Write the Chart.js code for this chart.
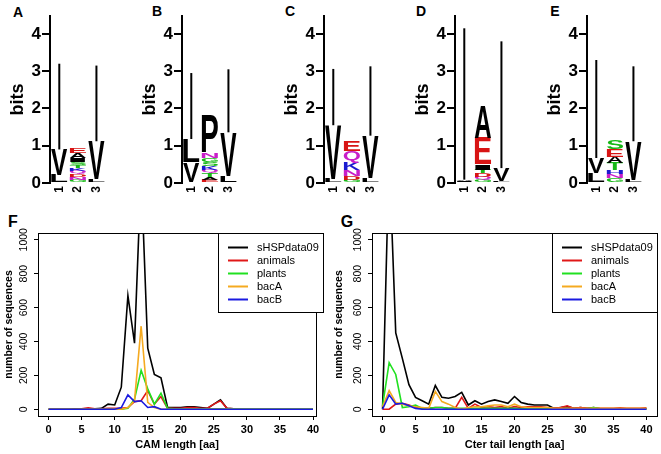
<!DOCTYPE html>
<html>
<head>
<meta charset="utf-8">
<script src="https://cdn.jsdelivr.net/npm/chart.js@4.4.1/dist/chart.umd.min.js"></script>
<style>
body{margin:0;background:#fff;width:661px;height:454px;position:relative;overflow:hidden;font-family:"Liberation Sans",Arial,sans-serif}
.cv{position:absolute}
.lab{position:absolute;font-weight:bold;font-size:14px;transform:translate(-50%,-50%);color:#000}
</style>
</head>
<body>
<div class="lab" style="left:18px;top:12px">A</div>
<div class="lab" style="left:157px;top:11px">B</div>
<div class="lab" style="left:290px;top:11px">C</div>
<div class="lab" style="left:421px;top:11px">D</div>
<div class="lab" style="left:555px;top:11px">E</div>
<div class="lab" style="left:13px;top:222px;font-size:16px">F</div>
<div class="lab" style="left:347px;top:222px;font-size:16px">G</div>

<div class="cv" style="left:0px;top:0px;width:115px;height:200px"><canvas id="logoA"></canvas></div>
<div class="cv" style="left:132px;top:0px;width:115px;height:200px"><canvas id="logoB"></canvas></div>
<div class="cv" style="left:274px;top:0px;width:115px;height:200px"><canvas id="logoC"></canvas></div>
<div class="cv" style="left:405px;top:0px;width:115px;height:200px"><canvas id="logoD"></canvas></div>
<div class="cv" style="left:537px;top:0px;width:115px;height:200px"><canvas id="logoE"></canvas></div>
<div class="cv" style="left:0px;top:200px;width:330px;height:254px"><canvas id="chartF"></canvas></div>
<div class="cv" style="left:330px;top:200px;width:331px;height:254px"><canvas id="chartG"></canvas></div>

<script>
// sequence logos: letters per position, bottom to top, with their heights in bits
var positions = ['1', '2', '3'];
var bitTicks = [0, 1, 2, 3, 4];

var lettersA = [['L','V'], ['G','N','D','Q','K','T','S','I','A','E'], ['L','V']];
var heightsA = [[0.22,0.68], [0.08,0.08,0.08,0.08,0.08,0.08,0.08,0.1,0.15,0.15], [0.1,1.02]];
var errTopA = [3.2, null, 3.15];

var lettersB = [['V','L'], ['E','A','T','Q','K','S','G','N','P'], ['L','V']];
var heightsB = [[0.55,0.63], [0.08,0.08,0.1,0.1,0.1,0.1,0.11,0.15,1.0], [0.18,1.18]];
var errTopB = [2.95, null, 3.05];

var lettersC = [['L','V'], ['G','D','N','K','Q','E'], ['L','V']];
var heightsC = [[0.12,1.43], [0.08,0.1,0.17,0.2,0.31,0.27], [0.13,1.14]];
var errTopC = [3.06, null, 3.13];

var lettersD = [['V','I','A'], ['G','Q','D','T','I','E','A'], ['L','V']];
var heightsD = [[0.03,0.03,0.03], [0.08,0.08,0.1,0.1,0.14,0.72,0.85], [0.05,0.35]];
var errTopD = [4.15, null, 3.8];

var lettersE = [['L','V'], ['G','N','H','T','A','E','S'], ['L','V']];
var heightsE = [[0.27,0.4], [0.14,0.1,0.1,0.19,0.18,0.2,0.24], [0.08,1.04]];
var errTopE = [3.3, null, 3.13];

// length distributions
var lengths = [0,1,2,3,4,5,6,7,8,9,10,11,12,13,14,15,16,17,18,19,20,21,22,23,24,25,26,27,28,29,30,31,32,33,34,35,36,37,38,39,40];
var xTicks = [0, 5, 10, 15, 20, 25, 30, 35, 40];
var yTicks = [0, 200, 400, 600, 800, 1000];
var seriesNames = ['sHSPdata09', 'animals', 'plants', 'bacA', 'bacB'];

var camAll     = [0,0,0,0,2,2,3,2,5,30,25,130,670,390,1400,360,205,185,10,10,10,15,15,10,5,30,55,5,2,2,2,2,2,2,2,1,1,1,2,1,1];
var camAnimals = [0,0,0,0,0,2,8,2,3,5,5,5,10,45,50,110,30,75,5,5,5,10,10,5,5,30,50,5,2,2,2,2,2,2,2,2,2,2,3,2,2];
var camPlants  = [0,0,0,0,0,0,0,0,0,0,0,0,5,60,230,120,30,95,5,2,2,2,2,2,2,2,2,2,2,2,2,2,2,3,2,2,2,2,2,2,2];
var camBacA    = [0,0,0,0,0,0,0,0,0,0,0,0,10,50,490,40,10,0,0,0,0,0,0,0,0,0,0,0,0,0,0,0,0,0,0,0,0,0,0,0,0];
var camBacB    = [0,0,0,0,0,0,0,0,0,0,0,10,85,45,50,10,15,0,0,0,0,0,0,0,0,0,0,0,0,0,0,0,0,0,0,0,0,0,0,0,0];

var cterAll     = [0,1500,450,300,145,70,50,30,140,70,65,75,100,25,50,30,45,55,45,35,75,40,30,25,25,25,5,10,15,5,10,5,10,3,3,3,3,3,3,3,3];
var cterAnimals = [0,0,30,35,25,10,5,5,10,10,5,5,70,5,30,10,15,10,15,5,15,10,15,15,15,10,5,10,20,5,10,5,5,5,5,5,8,5,5,5,8];
var cterPlants  = [20,275,205,10,15,25,5,5,10,10,5,5,5,5,5,5,5,5,5,5,5,3,3,3,3,3,3,3,3,3,3,3,10,3,2,2,2,2,2,2,2];
var cterBacA    = [15,110,40,30,20,15,10,5,105,45,30,10,0,10,15,15,20,25,25,15,30,15,10,10,10,10,5,5,5,5,5,5,5,5,5,5,5,5,5,5,5];
var cterBacB    = [0,85,30,35,20,5,0,0,0,0,0,0,0,0,0,0,0,0,0,0,0,0,0,0,0,0,0,0,0,0,0,0,0,0,0,0,0,0,0,0,0];

var lineColors = ['#000000', '#e01818', '#20e020', '#f5aa20', '#1a1ae0'];

var aaColors = {
    A:'#000', V:'#000', L:'#000', I:'#000', P:'#000', F:'#000', M:'#000', W:'#000',
    G:'#16b816', S:'#16b816', T:'#16b816', Y:'#16b816', C:'#16b816',
    N:'#c81ec8', Q:'#c81ec8',
    K:'#1a1ad0', R:'#1a1ad0', H:'#1a1ad0',
    D:'#d81414', E:'#d81414'
};

Chart.defaults.font.family = '"Liberation Sans", Arial, sans-serif';
Chart.defaults.color = '#000';

// draw one letter stretched into a box
function drawGlyph(ctx, ch, x, y, w, h, color){
    if (w <= 0 || h <= 0.3) return;
    ctx.save();
    ctx.font = 'bold 100px "Liberation Sans", Arial, sans-serif';
    ctx.textAlign = 'left';
    ctx.textBaseline = 'alphabetic';
    var m = ctx.measureText(ch);
    var gw = m.actualBoundingBoxLeft + m.actualBoundingBoxRight;
    var gh = m.actualBoundingBoxAscent + m.actualBoundingBoxDescent;
    ctx.translate(x, y);
    ctx.scale(w / gw, h / gh);
    ctx.fillStyle = color;
    ctx.fillText(ch, m.actualBoundingBoxLeft, m.actualBoundingBoxAscent);
    ctx.restore();
}

var letterPlugin = {
    id: 'letters',
    beforeDatasetsDraw: function(chart){
        // error bars, from the top of the stack upwards
        var o = chart.options.plugins.letters;
        var xs = chart.scales.x, ys = chart.scales.y, ctx = chart.ctx;
        ctx.save();
        ctx.strokeStyle = '#000';
        ctx.lineWidth = 2;
        o.tops.forEach(function(top, i){
            if (top == null) return;
            var sum = o.heights[i].reduce(function(a, b){ return a + b; }, 0);
            var x = xs.getPixelForValue(i);
            ctx.beginPath();
            ctx.moveTo(x, ys.getPixelForValue(sum));
            ctx.lineTo(x, ys.getPixelForValue(top));
            ctx.stroke();
        });
        ctx.restore();
    },
    afterDatasetsDraw: function(chart){
        var ctx = chart.ctx;
        chart.data.datasets.forEach(function(ds, di){
            chart.getDatasetMeta(di).data.forEach(function(bar, i){
                var ch = ds.letters[i];
                if (!ch) return;
                var p = bar.getProps(['x', 'y', 'base', 'width'], true);
                drawGlyph(ctx, ch, p.x - p.width / 2, p.y, p.width, p.base - p.y, aaColors[ch]);
            });
        });
    }
};

function logoChart(id, letters, heights, errTop){
    var levels = Math.max.apply(null, letters.map(function(c){ return c.length; }));
    var datasets = [];
    for (var k = 0; k < levels; k++){
        datasets.push({
            data: heights.map(function(c){ return c[k] || 0; }),
            letters: letters.map(function(c){ return c[k] || ''; }),
            backgroundColor: 'rgba(0,0,0,0)',
            borderWidth: 0,
            barPercentage: 0.88,
            categoryPercentage: 1
        });
    }
    return new Chart(document.getElementById(id), {
        type: 'bar',
        data: { labels: positions, datasets: datasets },
        options: {
            responsive: true, maintainAspectRatio: false, animation: false,
            layout: { padding: { top: 16, right: 7, left: 0, bottom: 0 } },
            plugins: { legend: { display: false }, tooltip: { enabled: false },
                letters: { tops: errTop, heights: heights } },
            scales: {
                x: {
                    stacked: true,
                    grid: { display: false, drawTicks: false },
                    border: { display: false },
                    ticks: { minRotation: 90, maxRotation: 90, font: { size: 12, weight: 'bold' }, padding: 3 },
                    afterFit: function(s){ s.height = 17; }
                },
                y: {
                    stacked: true, min: 0, max: 4.48,
                    afterBuildTicks: function(s){ s.ticks = bitTicks.map(function(v){ return { value: v }; }); },
                    grid: { drawOnChartArea: false, tickLength: 8, color: '#000', lineWidth: 2 },
                    border: { display: true, color: '#000', width: 2 },
                    ticks: { font: { size: 17, weight: 'bold' }, padding: 1 },
                    title: { display: true, text: 'bits', font: { size: 18, weight: 'bold' }, padding: { top: 7, bottom: 0 } },
                    afterFit: function(s){ s.width = 50; }
                }
            }
        },
        plugins: [letterPlugin]
    });
}

logoChart('logoA', lettersA, heightsA, errTopA);
logoChart('logoB', lettersB, heightsB, errTopB);
logoChart('logoC', lettersC, heightsC, errTopC);
logoChart('logoD', lettersD, heightsD, errTopD);
logoChart('logoE', lettersE, heightsE, errTopE);

// box, rotated y labels and the legend, drawn the way R does
var framePlugin = {
    id: 'frame',
    afterDraw: function(chart){
        var o = chart.options.plugins.frame;
        var ca = chart.chartArea, ctx = chart.ctx, ys = chart.scales.y;
        ctx.save();
        ctx.strokeStyle = '#000';
        ctx.lineWidth = 1;
        ctx.strokeRect(Math.round(ca.left) + 0.5, Math.round(ca.top) + 0.5, Math.round(ca.right - ca.left), Math.round(ca.bottom - ca.top));

        ctx.fillStyle = '#000';
        ctx.font = '10.5px "Liberation Sans", Arial, sans-serif';
        ctx.textAlign = 'center';
        ctx.textBaseline = 'middle';
        yTicks.forEach(function(v){
            ctx.save();
            ctx.translate(ca.left - 14, ys.getPixelForValue(v));
            ctx.rotate(-Math.PI / 2);
            ctx.fillText(String(v), 0, 0);
            ctx.restore();
        });

        var w = 105, h = 79;
        var r = Math.round(ca.right + o.legendShift);
        var l = r - w, t = Math.round(ca.top);
        ctx.fillStyle = '#fff';
        ctx.fillRect(l, t, w, h);
        ctx.strokeRect(l + 0.5, t + 0.5, w, h);
        ctx.font = '11px "Liberation Sans", Arial, sans-serif';
        ctx.textAlign = 'left';
        chart.data.datasets.forEach(function(ds, i){
            var y = t + 14.5 + i * 13;
            ctx.strokeStyle = ds.borderColor;
            ctx.lineWidth = 2;
            ctx.beginPath();
            ctx.moveTo(l + 10, y);
            ctx.lineTo(l + 30, y);
            ctx.stroke();
            ctx.fillStyle = '#000';
            ctx.fillText(ds.label, l + 39, y);
        });
        ctx.restore();
    }
};

function lengthChart(id, series, xTitle, xMax, padLeft, padRight, legendShift){
    var datasets = series.map(function(s, i){
        return {
            label: seriesNames[i],
            data: lengths.map(function(x, j){ return { x: x, y: s[j] }; }),
            borderColor: lineColors[i],
            borderWidth: 1.6,
            pointRadius: 0,
            tension: 0,
            order: 5 - i
        };
    });
    return new Chart(document.getElementById(id), {
        type: 'line',
        data: { datasets: datasets },
        options: {
            responsive: true, maintainAspectRatio: false, animation: false,
            layout: { padding: { top: 33, right: padRight, left: 0, bottom: 0 } },
            plugins: { legend: { display: false }, tooltip: { enabled: false }, frame: { legendShift: legendShift } },
            scales: {
                x: {
                    type: 'linear', min: -1.6, max: xMax,
                    afterBuildTicks: function(s){ s.ticks = xTicks.map(function(v){ return { value: v }; }); },
                    grid: { drawOnChartArea: false, tickLength: 4, color: '#000', lineWidth: 1 },
                    border: { display: false },
                    ticks: { maxRotation: 0, font: { size: 11, weight: 'bold' }, padding: 3 },
                    title: { display: true, text: xTitle, font: { size: 11, weight: 'bold' }, padding: { top: 0, bottom: 2 } },
                    afterFit: function(s){ s.height = 38; }
                },
                y: {
                    min: -40, max: 1040,
                    afterBuildTicks: function(s){ s.ticks = yTicks.map(function(v){ return { value: v }; }); },
                    grid: { drawOnChartArea: false, tickLength: 4, color: '#000', lineWidth: 1 },
                    border: { display: false },
                    ticks: { display: false },
                    title: { display: true, text: 'number of sequences', font: { size: 10.5, weight: 'bold' }, padding: { top: 3, bottom: 0 } },
                    afterFit: function(s){ s.width = padLeft; }
                }
            }
        },
        plugins: [framePlugin]
    });
}

lengthChart('chartF', [camAll, camAnimals, camPlants, camBacA, camBacB], 'CAM length [aa]', 40.45, 38, 14, 7);
lengthChart('chartG', [cterAll, cterAnimals, cterPlants, cterBacA, cterBacB], 'Cter tail length [aa]', 41.6, 42, 4, 0);
</script>
</body>
</html>
